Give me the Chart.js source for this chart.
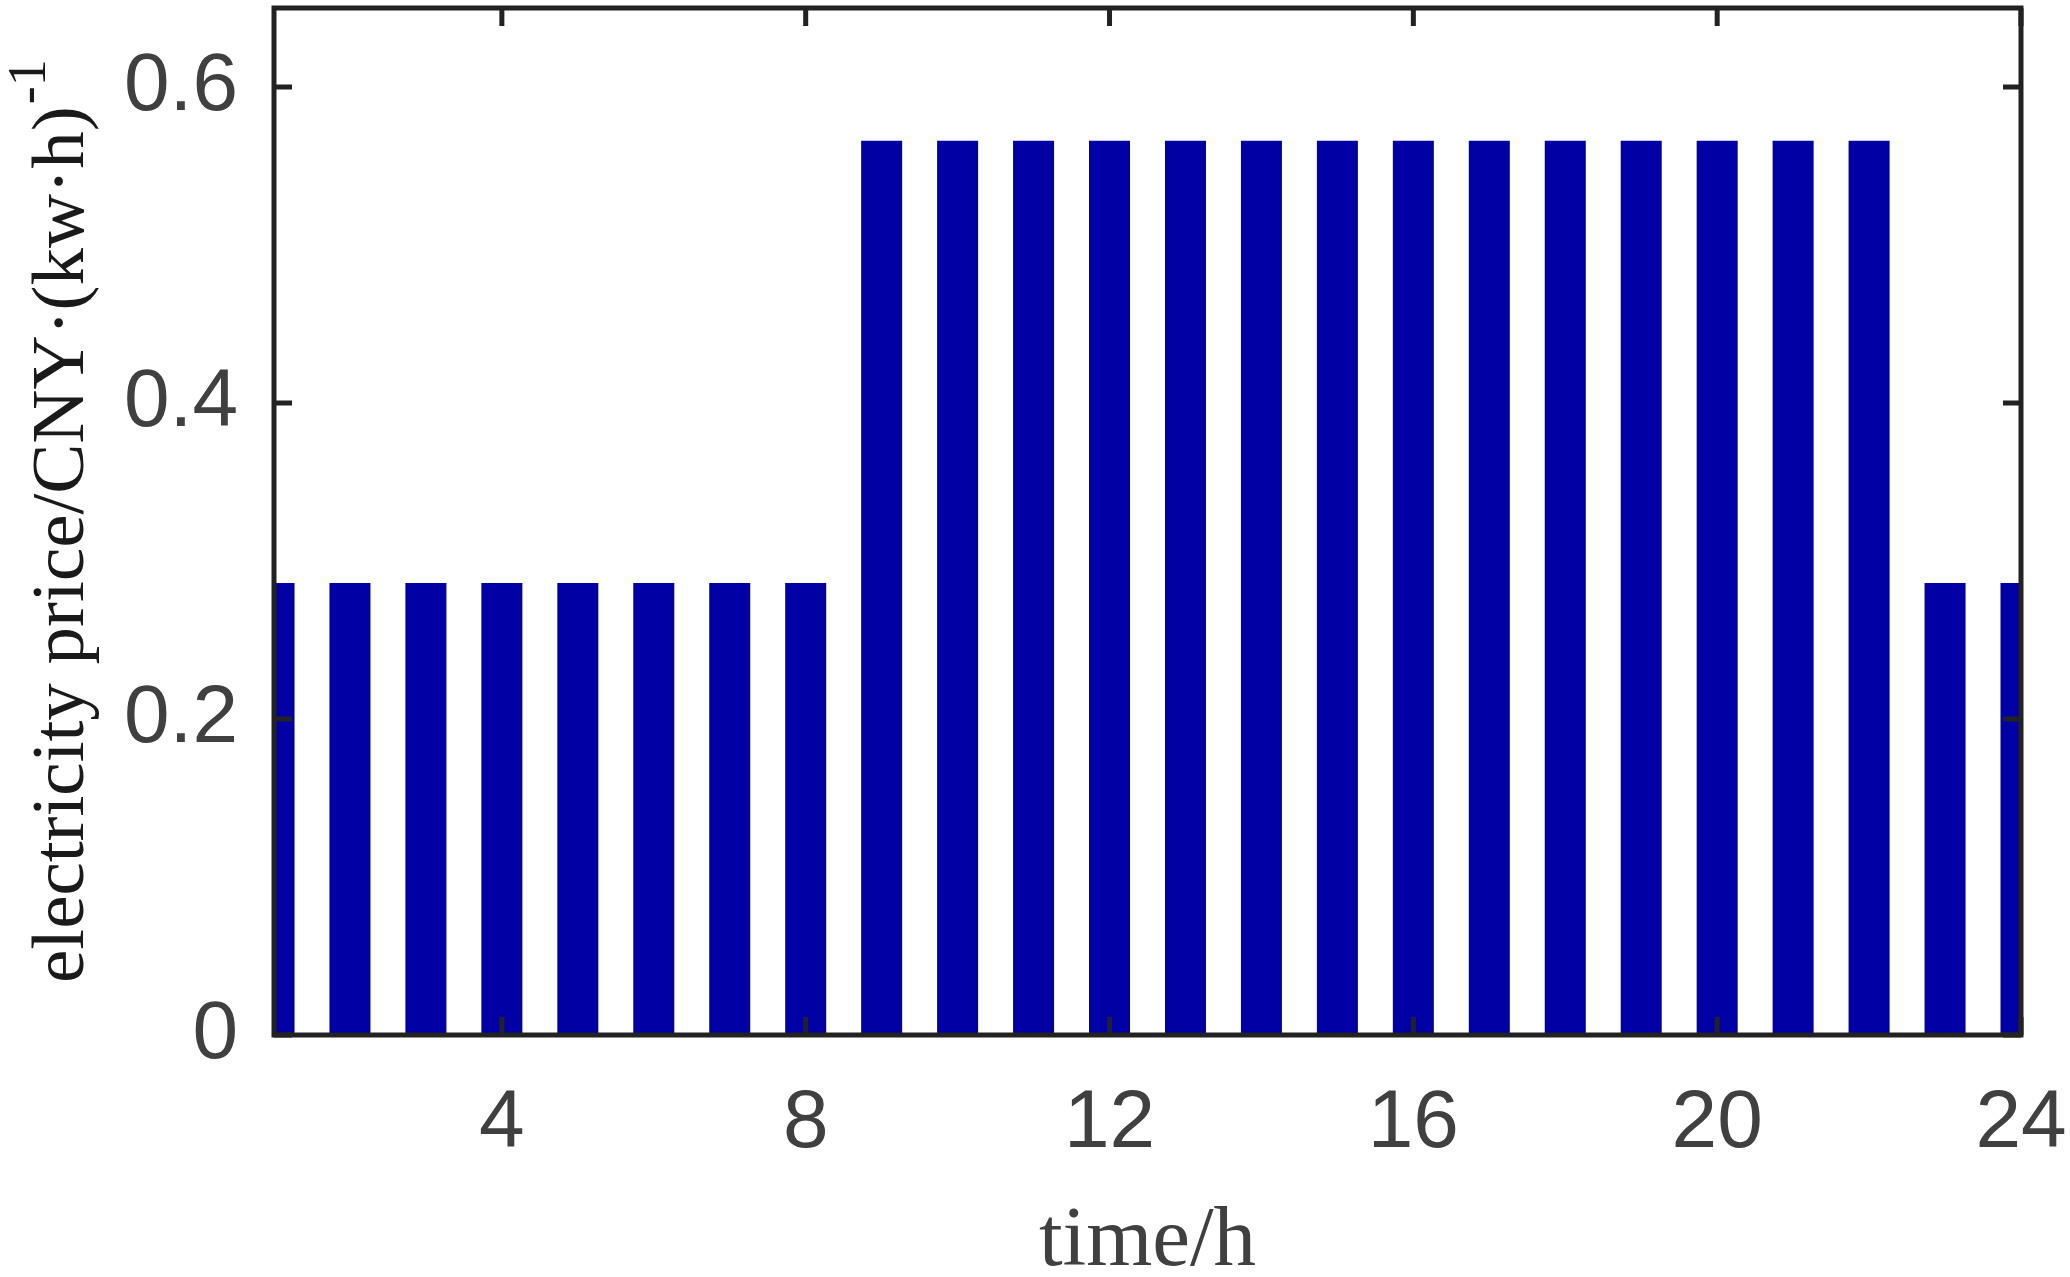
<!DOCTYPE html>
<html>
<head>
<meta charset="utf-8">
<script src="https://cdn.jsdelivr.net/npm/chart.js@4.4.0/dist/chart.umd.min.js"></script>
<style>
  html, body { margin: 0; padding: 0; background: #fff; }
  #wrap { width: 2070px; height: 1277px; }
</style>
</head>
<body>
<div id="wrap"><canvas id="price-chart" width="2070" height="1277"></canvas></div>
<script>
// electricity price per hour
const hours = [1, 2, 3, 4, 5, 6, 7, 8, 9, 10, 11, 12, 13, 14, 15, 16, 17, 18, 19, 20, 21, 22, 23, 24];
const prices = [0.286, 0.286, 0.286, 0.286, 0.286, 0.286, 0.286, 0.286,
  0.566, 0.566, 0.566, 0.566, 0.566, 0.566, 0.566, 0.566, 0.566, 0.566, 0.566, 0.566, 0.566, 0.566,
  0.286, 0.286];
const xTicks = [4, 8, 12, 16, 20, 24];
const yTicks = [0, 0.2, 0.4, 0.6];

const axisColor = '#222222';
const labelColor = '#404040';

// box + inward ticks, drawn on top of the bars
const boxPlugin = {
  id: 'boxPlugin',
  afterDatasetsDraw(chart) {
    const { ctx, chartArea: a, scales } = chart;
    ctx.save();
    ctx.strokeStyle = axisColor;
    ctx.lineWidth = 5;
    ctx.strokeRect(a.left, a.top, a.right - a.left, a.bottom - a.top);
    const tl = 18;
    ctx.beginPath();
    xTicks.forEach(v => {
      const px = scales.x.getPixelForValue(v);
      ctx.moveTo(px, a.bottom); ctx.lineTo(px, a.bottom - tl);
      ctx.moveTo(px, a.top); ctx.lineTo(px, a.top + tl);
    });
    yTicks.forEach(v => {
      const py = scales.y.getPixelForValue(v);
      ctx.moveTo(a.left, py); ctx.lineTo(a.left + tl, py);
      ctx.moveTo(a.right, py); ctx.lineTo(a.right - tl, py);
    });
    ctx.stroke();

    // axis titles
    ctx.fillStyle = labelColor;
    ctx.font = '85px "Liberation Serif", "Times New Roman", serif';
    ctx.textAlign = 'center';
    ctx.textBaseline = 'alphabetic';
    ctx.fillText('time/h', (a.left + a.right) / 2, 1265);

    ctx.fillStyle = '#1a1a1a';
    ctx.translate(83, 983);
    ctx.rotate(-Math.PI / 2);
    ctx.textAlign = 'left';
    ctx.font = '75px "Liberation Serif", "Times New Roman", serif';
    const main = 'electricity price/CNY\u00b7(kw\u00b7h)';
    ctx.fillText(main, 0, 0);
    const w = ctx.measureText(main).width;
    ctx.font = '54px "Liberation Serif", "Times New Roman", serif';
    ctx.fillText('-1', w + 2, -38);
    ctx.restore();
  }
};

new Chart(document.getElementById('price-chart'), {
  type: 'bar',
  data: {
    datasets: [{
      data: hours.map((h, i) => ({ x: h, y: prices[i] })),
      backgroundColor: '#0000a4',
      borderWidth: 0,
      barPercentage: 0.54,
      categoryPercentage: 1
    }]
  },
  options: {
    responsive: false,
    animation: false,
    layout: { padding: { top: 8, right: 49, left: 0, bottom: 0 } },
    plugins: {
      legend: { display: false },
      tooltip: { enabled: false }
    },
    scales: {
      x: {
        type: 'linear',
        min: 1,
        max: 24,
        offset: false,
        grid: { display: false, drawTicks: false },
        border: { display: false },
        afterBuildTicks: s => { s.ticks = xTicks.map(v => ({ value: v })); },
        afterFit: s => { s.height = 1277 - 1035; s.paddingLeft = 0; s.paddingRight = 0; },
        ticks: {
          color: labelColor,
          font: { family: '"Liberation Sans", Arial, sans-serif', size: 82 },
          padding: 40,
          maxRotation: 0,
          autoSkip: false
        }
      },
      y: {
        min: 0,
        max: 0.65,
        grid: { display: false, drawTicks: false },
        border: { display: false },
        afterBuildTicks: s => { s.ticks = yTicks.map(v => ({ value: v })); },
        afterFit: s => { s.width = 274; s.paddingTop = 0; s.paddingBottom = 0; },
        ticks: {
          color: labelColor,
          font: { family: '"Liberation Sans", Arial, sans-serif', size: 82 },
          padding: 36,
          callback: v => String(Math.round(v * 10) / 10)
        }
      }
    }
  },
  plugins: [boxPlugin]
});
</script>
</body>
</html>
